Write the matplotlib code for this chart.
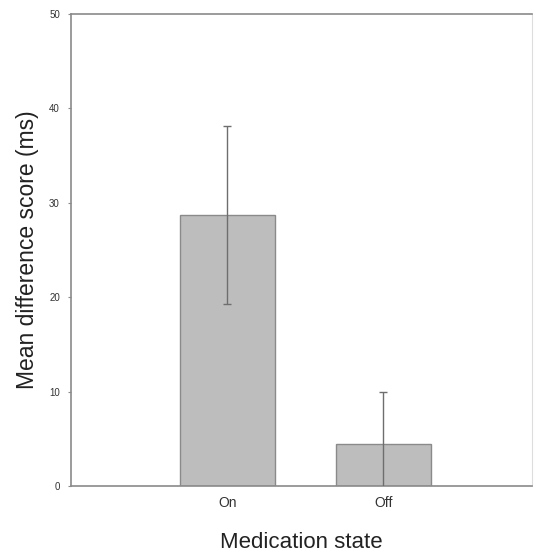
#!/usr/bin/env python
# -*- coding:utf-8 -*-
"""
Mean difference score per medication state (bar chart with error bars).
"""

import numpy as np
from matplotlib import pyplot as plt

plt.rc("font", family=["Liberation Sans", "DejaVu Sans"])

# Data
conditions = ["On", "Off"]
meanDiff = [28.7, 4.4]
errDiff = [9.4, 5.6]

yTicks = [0, 10, 20, 30, 40, 50]

barColor = "#bdbdbd"
edgeColor = "#8a8a8a"
errColor = "#6e6e6e"

fig = plt.figure(figsize=(5.34, 5.52), dpi=100)
ax = fig.add_axes([0.133, 0.1196, 0.863, 0.855])

xPos = np.arange(1, len(conditions) + 1)
ax.bar(xPos, meanDiff, width=0.61, color=barColor, edgecolor=edgeColor,
	linewidth=1.0, zorder=2)
ax.errorbar(xPos, meanDiff, yerr=errDiff, fmt="none", ecolor=errColor,
	elinewidth=1.0, capsize=3, capthick=1.0, zorder=3)

ax.set_xlim(0, 2.95)
ax.set_ylim(0, 50)
ax.set_xticks(xPos)
ax.set_xticklabels(conditions, fontsize=10, color="#333333")
ax.set_yticks(yTicks)
ax.set_yticklabels([str(t) for t in yTicks], fontsize=7, color="#333333")
ax.tick_params(axis="x", length=0, pad=7)
ax.tick_params(axis="y", length=2, width=0.8, color=edgeColor, pad=6)

for side in ["left", "bottom", "top"]:
	ax.spines[side].set_color("#8a8a8a")
	ax.spines[side].set_linewidth(1.2)
ax.spines["right"].set_color("#dddddd")
ax.spines["right"].set_linewidth(0.8)

ax.set_ylabel("Mean difference score (ms)", fontsize=16.5, color="#222222",
	labelpad=7)
ax.set_xlabel("Medication state", fontsize=16, color="#222222", labelpad=16)

plt.savefig("out.png", dpi=100)
